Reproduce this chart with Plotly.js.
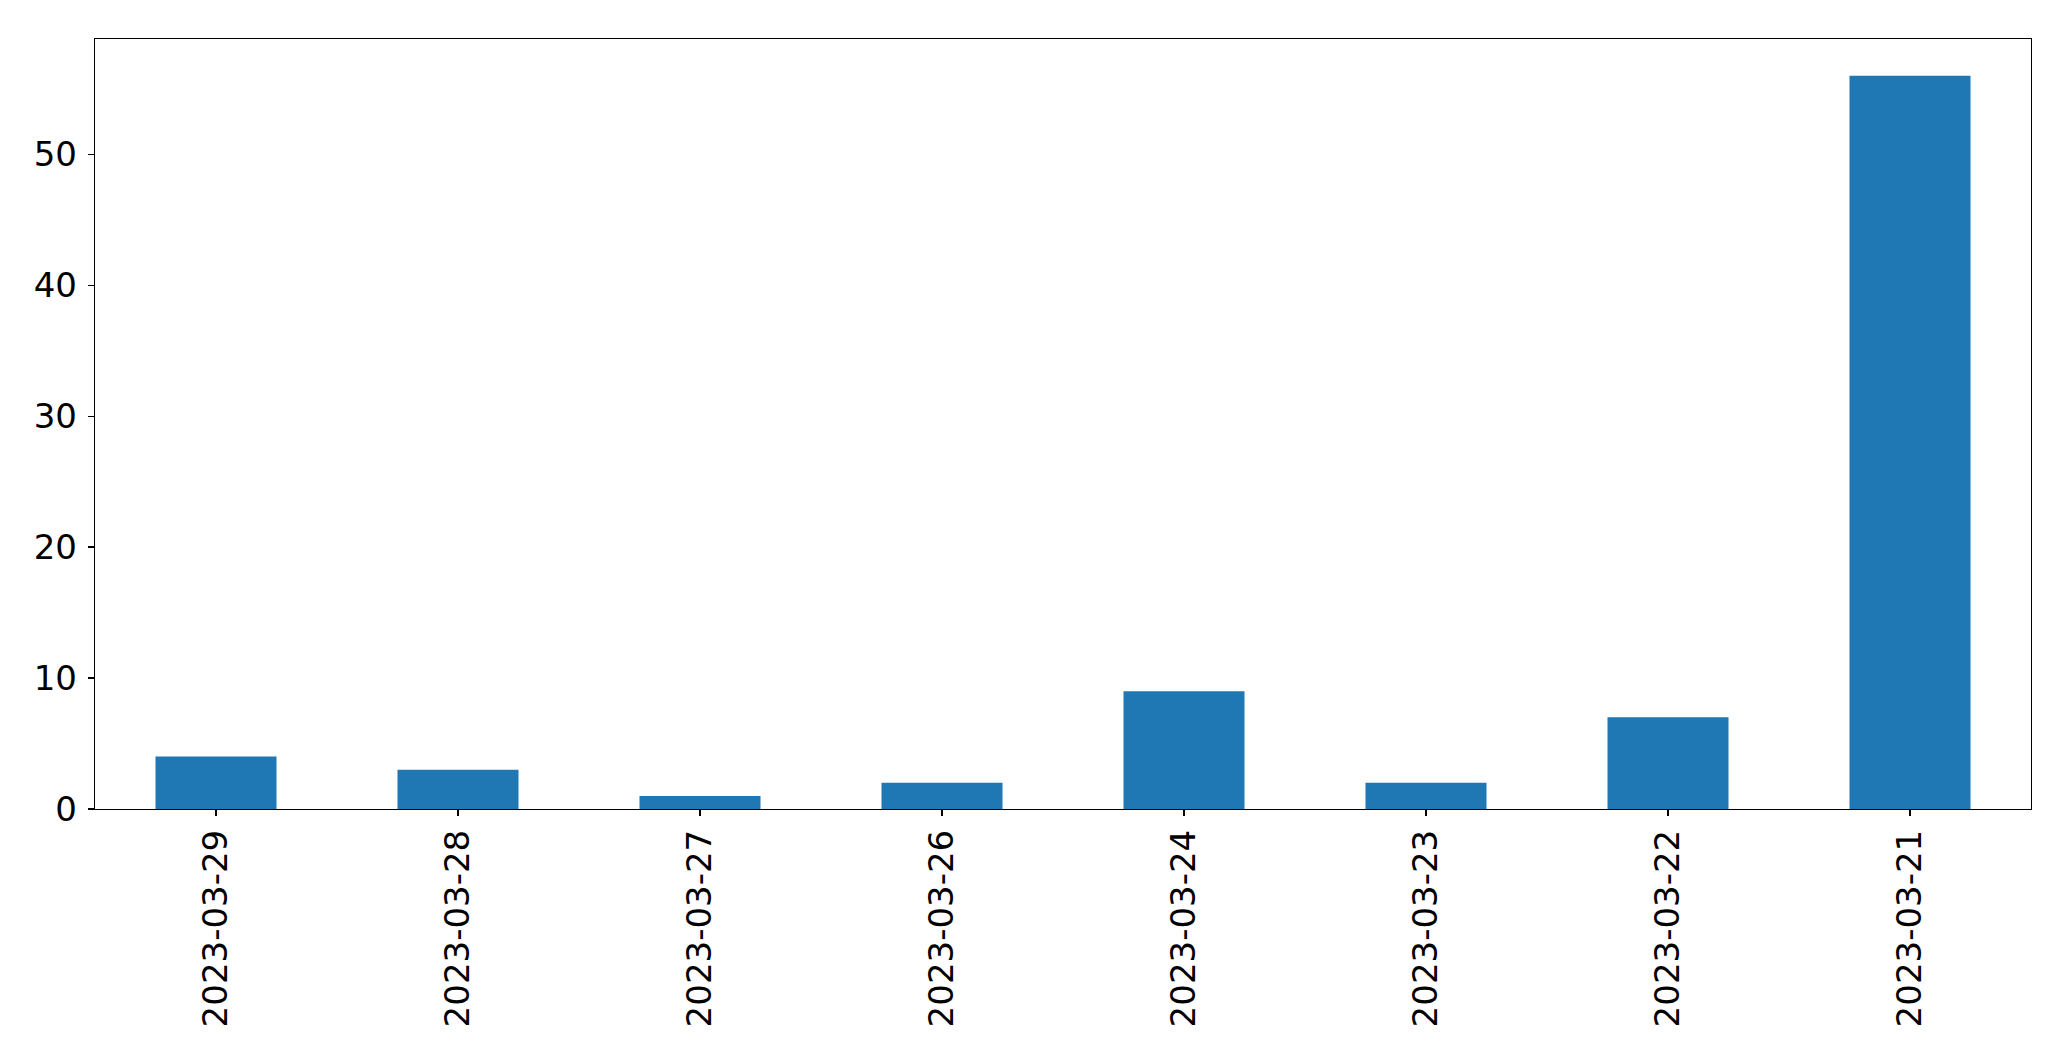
<!DOCTYPE html>
<html>
<head>
<meta charset="utf-8">
<script src="https://cdn.plot.ly/plotly-3.0.1.min.js"></script>
<style>html,body{margin:0;padding:0;background:#fff;}#chart{width:2071px;height:1061px;}</style>
</head>
<body>
<div id="chart"></div>
<script>
const dates = ["2023-03-29","2023-03-28","2023-03-27","2023-03-26","2023-03-24","2023-03-23","2023-03-22","2023-03-21"];
const counts = [4, 3, 1, 2, 9, 2, 7, 56];
const yTicks = [0, 10, 20, 30, 40, 50];

const trace = {
  type: 'bar',
  x: dates,
  y: counts,
  width: 0.5,
  marker: {color: '#1f77b4', line: {width: 0}},
  hoverinfo: 'x+y'
};

const fontSpec = {family: 'DejaVu Sans', size: 34, color: '#000'};

const layout = {
  width: 2071,
  height: 1061,
  margin: {l: 95, r: 40, t: 39, b: 252, pad: 0},
  paper_bgcolor: '#fff',
  plot_bgcolor: '#fff',
  showlegend: false,
  bargap: 0.5,
  xaxis: {
    type: 'category',
    range: [-0.5, 7.5],
    showline: true, mirror: true, linecolor: '#000', linewidth: 1.2,
    ticks: 'outside', ticklen: 6, tickwidth: 1.2, tickcolor: '#000',
    tickangle: -90,
    tickfont: fontSpec,
    showgrid: false, zeroline: false,
    ticklabelstandoff: 0
  },
  yaxis: {
    range: [0, 58.8],
    tickvals: yTicks,
    ticktext: yTicks.map(String),
    showline: true, mirror: true, linecolor: '#000', linewidth: 1.2,
    ticks: 'outside', ticklen: 6, tickwidth: 1.2, tickcolor: '#000',
    tickfont: fontSpec,
    showgrid: false, zeroline: false,
    ticklabelstandoff: 4
  }
};

Plotly.newPlot('chart', [trace], layout, {displayModeBar: false, staticPlot: true});
</script>
</body>
</html>
